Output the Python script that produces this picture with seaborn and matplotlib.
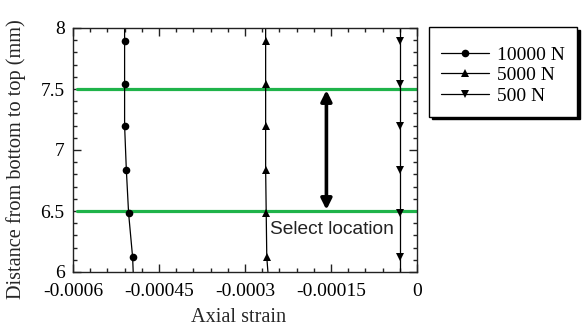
import numpy as np
import pandas as pd
import matplotlib
matplotlib.use("Agg")
import matplotlib.pyplot as plt
from matplotlib.ticker import FixedLocator, FixedFormatter, MultipleLocator
import seaborn as sns

# ---- data ----
distance = [6.0, 6.12, 6.48, 6.84, 7.2, 7.54, 7.89, 8.0]
strain_10000 = [-0.000495, -0.000496, -0.000503, -0.000507, -0.00051, -0.00051, -0.00051, -0.00051]
strain_5000 = [-0.00026, -0.000262, -0.000263, -0.000264, -0.000264, -0.000264, -0.000264, -0.000264]
strain_500 = [-0.00003, -0.00003, -0.00003, -0.00003, -0.00003, -0.00003, -0.00003, -0.00003]
series_labels = ["10000 N", "5000 N", "500 N"]
x_ticks = [-0.0006, -0.00045, -0.0003, -0.00015, 0.0]
x_ticklabels = ["-0.0006", "-0.00045", "-0.0003", "-0.00015", "0"]
y_ticks = [6, 6.5, 7, 7.5, 8]
y_ticklabels = ["6", "6.5", "7", "7.5", "8"]
select_bounds = [6.5, 7.5]
arrow_x = -0.000158

sns.set_style("ticks")
plt.rcParams['font.family'] = ['Liberation Serif', 'DejaVu Serif']

fig = plt.figure(figsize=(5.82, 3.32), dpi=100)
ax = fig.add_axes([73/582, 1 - 272/332, 344/582, 244/332])

df = pd.DataFrame({"distance": distance * 3,
                   "strain": strain_10000 + strain_5000 + strain_500,
                   "load": sum([[l] * len(distance) for l in series_labels], [])})

markers = {"10000 N": ("o", 5.5), "5000 N": ("^", 6.0), "500 N": ("v", 6.0)}
for lab in series_labels:
    sub = df[df["load"] == lab]
    m, ms = markers[lab]
    sns.lineplot(data=sub, x="strain", y="distance", sort=False, estimator=None,
                 color="black", lw=0.9, marker=m, markersize=ms,
                 markeredgewidth=0, markevery=slice(1, -1), label=lab, ax=ax)

for yb in select_bounds:
    ax.axhline(yb, xmin=0.012, xmax=1, color="#1fb34a", lw=2.3, zorder=1)

ax.annotate("", xy=(arrow_x, select_bounds[1] - 0.01), xytext=(arrow_x, select_bounds[0] + 0.01),
            arrowprops=dict(arrowstyle="<|-|>", color="black", lw=2.6,
                            mutation_scale=16, shrinkA=0, shrinkB=0))
ax.text(-0.000256, 6.345, "Select location", family=["Liberation Sans", "DejaVu Sans"],
        fontsize=13.8, va="center", ha="left", color="#222222")

ax.set_xlim(-0.0006, 0)
ax.set_ylim(6, 8)
ax.xaxis.set_major_locator(FixedLocator(x_ticks))
ax.xaxis.set_major_formatter(FixedFormatter(x_ticklabels))
ax.xaxis.set_minor_locator(MultipleLocator(0.00003))
ax.yaxis.set_major_locator(FixedLocator(y_ticks))
ax.yaxis.set_major_formatter(FixedFormatter(y_ticklabels))
ax.yaxis.set_minor_locator(MultipleLocator(0.1))
ax.tick_params(which="both", direction="in", top=True, right=True, colors="#222222",
               labelsize=14, width=1.0, labelcolor="black")
ax.tick_params(which="major", length=5.5)
ax.tick_params(which="minor", length=3)
ax.tick_params(axis="x", which="major", pad=8)
ax.tick_params(axis="y", which="major", pad=6)
for s in ax.spines.values():
    s.set_linewidth(1.0)
    s.set_color("#222222")

ax.set_xlabel("Axial strain", fontsize=14.6)
ax.set_ylabel("Distance from bottom to top (mm)", fontsize=14.6)
ax.xaxis.set_label_coords(0.48, -0.148)
ax.yaxis.set_label_coords(-0.137, 0.463)

leg = ax.legend(loc="upper left", bbox_to_anchor=(429/582, 1 - 27/332),
                bbox_transform=fig.transFigure, frameon=True, fancybox=False,
                shadow={"color": "black", "alpha": 1.0}, edgecolor="black",
                fontsize=14, handlelength=2.45, handletextpad=0.42,
                labelspacing=0.15, borderpad=0.62, borderaxespad=0,
                title=" ", title_fontsize=2.8)
leg.get_frame().set_linewidth(1.0)
leg.get_frame().set_alpha(1.0)
for t in leg.get_texts():
    t.set_color("black")

fig.savefig("out.png", dpi=100)
